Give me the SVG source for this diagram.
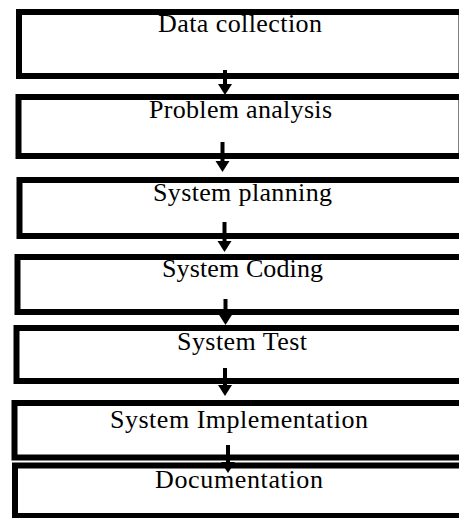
<svg xmlns="http://www.w3.org/2000/svg" width="459" height="518" viewBox="0 0 459 518">
<defs>
<style>
.box{fill:#fff;stroke:#000;stroke-width:6}
.lbl{font-family:"Liberation Serif","Times New Roman",serif;font-size:26px;fill:#000;text-anchor:middle}
.conn{stroke:#000;stroke-width:4;fill:none}
</style>
<marker id="ah" markerUnits="userSpaceOnUse" markerWidth="12" markerHeight="16" refX="0" refY="7" orient="auto" viewBox="0 0 12 14">
<path d="M0,0 L11,7 L0,14 z" fill="#000"/>
</marker>
</defs>
<rect width="459" height="518" fill="#fff"/>
<g id="n1"><rect class="box" x="19" y="12" width="442.5" height="64"/><text class="lbl" x="240" y="32" textLength="164" lengthAdjust="spacing">Data collection</text></g>
<g id="n2"><rect class="box" x="18.5" y="97" width="443" height="59"/><text class="lbl" x="240.5" y="118" textLength="183" lengthAdjust="spacing">Problem analysis</text></g>
<g id="n3"><rect class="box" x="19.5" y="180" width="445" height="56"/><text class="lbl" x="242.5" y="201" textLength="179" lengthAdjust="spacing">System planning</text></g>
<g id="n4"><rect class="box" x="17.5" y="257" width="447" height="55"/><text class="lbl" x="242.5" y="277" textLength="161" lengthAdjust="spacing">System Coding</text></g>
<g id="n5"><rect class="box" x="16.5" y="328" width="448" height="53"/><text class="lbl" x="242" y="350" textLength="130" lengthAdjust="spacing">System Test</text></g>
<g id="n6"><rect class="box" x="14.5" y="403" width="450" height="54.5"/><text class="lbl" x="239" y="428" textLength="258" lengthAdjust="spacing">System Implementation</text></g>
<g id="n7"><rect class="box" x="15" y="465.5" width="450" height="50.5"/><text class="lbl" x="239" y="488" textLength="168" lengthAdjust="spacing">Documentation</text></g>
<g id="connectors">
<line class="conn" x1="225" y1="70" x2="225" y2="84" marker-end="url(#ah)"/>
<line class="conn" x1="222.5" y1="142" x2="222.5" y2="161" marker-end="url(#ah)"/>
<line class="conn" x1="224.5" y1="222" x2="224.5" y2="241" marker-end="url(#ah)"/>
<line class="conn" x1="225.5" y1="299" x2="225.5" y2="314" marker-end="url(#ah)"/>
<line class="conn" x1="225" y1="368" x2="225" y2="385" marker-end="url(#ah)"/>
<line class="conn" x1="228" y1="445" x2="228" y2="462" marker-end="url(#ah)"/>
</g>
</svg>
